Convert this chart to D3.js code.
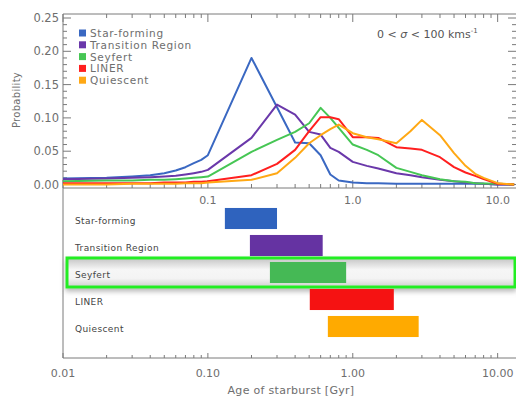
<!DOCTYPE html>
<html>
<head>
<meta charset="utf-8">
<script src="https://cdn.jsdelivr.net/npm/d3@7"></script>
<style>
body { margin: 0; background: #fff; }
svg text { font-family: "DejaVu Sans", sans-serif; }
</style>
</head>
<body>
<div id="chart"></div>
<script>
var width = 516,
	height = 397;

// age grid of the probability curves [Gyr]
var ages = [0.01, 0.02, 0.03, 0.04, 0.05, 0.06, 0.07, 0.08, 0.09, 0.1,
	0.2, 0.3, 0.4, 0.5, 0.6, 0.7, 0.8, 1.0, 1.25, 1.5,
	2.0, 2.5, 3.0, 4.0, 5.0, 6.0, 7.0, 8.0, 10.0, 13.0];

var starForming = [0.009, 0.010, 0.012, 0.014, 0.017, 0.021, 0.026, 0.032, 0.037, 0.044,
	0.190, 0.116, 0.063, 0.062, 0.044, 0.015, 0.006, 0.003, 0.002, 0.002,
	0.001, 0.001, 0.001, 0.001, 0.001, 0.001, 0.001, 0.001, 0.000, 0.000];
var transition = [0.008, 0.009, 0.010, 0.011, 0.012, 0.013, 0.015, 0.017, 0.019, 0.022,
	0.070, 0.120, 0.105, 0.079, 0.075, 0.055, 0.049, 0.034, 0.028, 0.024,
	0.017, 0.014, 0.011, 0.007, 0.005, 0.003, 0.002, 0.001, 0.000, 0.000];
var seyfert = [0.005, 0.006, 0.006, 0.007, 0.007, 0.008, 0.009, 0.010, 0.011, 0.012,
	0.049, 0.067, 0.079, 0.092, 0.115, 0.100, 0.085, 0.060, 0.052, 0.044,
	0.025, 0.019, 0.014, 0.008, 0.005, 0.004, 0.002, 0.0015, 0.001, 0.000];
var liner = [0.002, 0.002, 0.002, 0.002, 0.003, 0.003, 0.003, 0.004, 0.004, 0.005,
	0.014, 0.031, 0.052, 0.080, 0.101, 0.101, 0.098, 0.071, 0.071, 0.070,
	0.056, 0.054, 0.052, 0.041, 0.026, 0.018, 0.013, 0.008, 0.001, 0.000];
var quiescent = [0.000, 0.000, 0.001, 0.001, 0.001, 0.001, 0.002, 0.002, 0.002, 0.003,
	0.007, 0.017, 0.040, 0.062, 0.074, 0.083, 0.090, 0.077, 0.071, 0.068,
	0.062, 0.080, 0.097, 0.074, 0.047, 0.028, 0.016, 0.010, 0.002, 0.000];

var classes = ['Star-forming', 'Transition Region', 'Seyfert', 'LINER', 'Quiescent'];
var colors = ['#3a68c2', '#6a38aa', '#46c654', '#ff1f1f', '#ffa814'];
var barColors = ['#2f63be', '#6533a2', '#45b955', '#f51212', '#ffaa00'];

// age ranges [Gyr] for the bars
var rangeLow = [0.131, 0.195, 0.268, 0.505, 0.673];
var rangeHigh = [0.30, 0.62, 0.90, 1.92, 2.85];

var yTicks = [0.00, 0.05, 0.10, 0.15, 0.20, 0.25];
var topLabels = [0.1, 1.0, 10.0];
var bottomLabels = [0.01, 0.1, 1.0, 10.0];

var series = [starForming, transition, seyfert, liner, quiescent];

var svg = d3.select('#chart').append('svg')
	.attr('width', width)
	.attr('height', height);

var left = 63, right = 517,
	topY = 14, midY = 188, botY = 358;

var x = d3.scaleLog()
	.domain([0.01, 13.6])
	.range([left, right]);

var y = d3.scaleLinear()
	.domain([0, 0.25])
	.range([184.5, 18]);

var yBand = d3.scaleBand()
	.domain(classes)
	.range([205, 340])
	.paddingInner(0.22)
	.paddingOuter(0.11);

var axisColor = '#7a7a7a',
	textColor = '#6e6e6e';

// minor log ticks
var logTicks = [];
[0.01, 0.1, 1, 10].forEach(function(d) {
	for (var k = 1; k < 10; k++) {
		var v = d * k;
		if (v <= x.domain()[1]) logTicks.push({v: v, major: k === 1});
	}
});

var defs = svg.append('defs');
defs.append('clipPath').attr('id', 'clip')
	.append('rect')
	.attr('x', left).attr('y', topY)
	.attr('width', right - left).attr('height', midY - topY);

var grad = defs.append('linearGradient')
	.attr('id', 'boxfill')
	.attr('x1', 0).attr('y1', 0).attr('x2', 0).attr('y2', 1);
grad.append('stop').attr('offset', '0%').attr('stop-color', '#c4c4c4');
grad.append('stop').attr('offset', '40%').attr('stop-color', '#f6f6f6');
grad.append('stop').attr('offset', '70%').attr('stop-color', '#f4f4f4');
grad.append('stop').attr('offset', '100%').attr('stop-color', '#cfcfcf');

var shadow = defs.append('filter').attr('id', 'shadow')
	.attr('x', '-5%').attr('y', '-40%').attr('width', '110%').attr('height', '200%');
shadow.append('feDropShadow')
	.attr('dx', 0).attr('dy', 3)
	.attr('stdDeviation', 2.5)
	.attr('flood-color', '#888')
	.attr('flood-opacity', 0.6);

/* top panel */

var topPanel = svg.append('g').classed('top', true);

// frame
topPanel.append('line')
	.attr('x1', left).attr('x2', right)
	.attr('y1', topY).attr('y2', topY)
	.style('stroke', axisColor);
topPanel.append('line')
	.attr('x1', left).attr('x2', right)
	.attr('y1', midY).attr('y2', midY)
	.style('stroke', axisColor);
topPanel.append('line')
	.attr('x1', left).attr('x2', left)
	.attr('y1', topY).attr('y2', botY)
	.style('stroke', axisColor);

// x ticks, bottom (up) and top (down)
topPanel.selectAll('line.xtick')
	.data(logTicks)
	.enter()
	.append('line')
	.classed('xtick', true)
	.attr('x1', d => x(d.v)).attr('x2', d => x(d.v))
	.attr('y1', midY).attr('y2', d => midY - (d.major ? 8 : 4))
	.style('stroke', axisColor);
topPanel.selectAll('line.xtick2')
	.data(logTicks)
	.enter()
	.append('line')
	.classed('xtick2', true)
	.attr('x1', d => x(d.v)).attr('x2', d => x(d.v))
	.attr('y1', topY).attr('y2', d => topY + (d.major ? 8 : 4))
	.style('stroke', axisColor);

topPanel.selectAll('text.xlab')
	.data(topLabels)
	.enter()
	.append('text')
	.classed('xlab', true)
	.attr('x', d => x(d))
	.attr('y', 204)
	.attr('text-anchor', 'middle')
	.style('font-size', '11px')
	.style('fill', textColor)
	.text(d => d.toFixed(1));

// y ticks, left and right
var yMinor = d3.range(0, 0.2501, 0.01);
topPanel.selectAll('line.ytick')
	.data(yMinor)
	.enter()
	.append('line')
	.classed('ytick', true)
	.attr('x1', left).attr('x2', (d, i) => left + (i % 5 === 0 ? 8 : 4))
	.attr('y1', d => y(d)).attr('y2', d => y(d))
	.style('stroke', axisColor);
topPanel.selectAll('line.ytick2')
	.data(yMinor)
	.enter()
	.append('line')
	.classed('ytick2', true)
	.attr('x1', right - 1).attr('x2', (d, i) => right - 1 - (i % 5 === 0 ? 8 : 4))
	.attr('y1', d => y(d)).attr('y2', d => y(d))
	.style('stroke', axisColor);

topPanel.selectAll('text.ylab')
	.data(yTicks)
	.enter()
	.append('text')
	.classed('ylab', true)
	.attr('x', left - 4)
	.attr('y', d => y(d) + 4)
	.attr('text-anchor', 'end')
	.style('font-size', '11.5px')
	.style('fill', textColor)
	.text(d => d.toFixed(2));

topPanel.append('text')
	.attr('transform', 'translate(20,100) rotate(-90)')
	.attr('text-anchor', 'middle')
	.style('font-size', '10px')
	.style('letter-spacing', '0.3px')
	.style('fill', textColor)
	.text('Probability');

// curves
var line = d3.line()
	.x((d, i) => x(ages[i]))
	.y(d => y(d));

topPanel.append('g')
	.attr('clip-path', 'url(#clip)')
	.selectAll('path.curve')
	.data(series)
	.enter()
	.append('path')
	.classed('curve', true)
	.attr('d', line)
	.style('fill', 'none')
	.style('stroke', (d, i) => colors[i])
	.style('stroke-width', 2)
	.style('stroke-linejoin', 'round');

// legend
var legend = topPanel.selectAll('g.legend')
	.data(classes)
	.enter()
	.append('g')
	.classed('legend', true)
	.attr('transform', (d, i) => 'translate(79,' + (33 + i * 11.8) + ')');
legend.append('rect')
	.attr('x', 0).attr('y', -3.5)
	.attr('width', 7).attr('height', 7)
	.style('fill', (d, i) => colors[i]);
legend.append('text')
	.attr('x', 11)
	.attr('y', 4)
	.style('font-size', '10.5px')
	.style('letter-spacing', '0.7px')
	.style('fill', textColor)
	.text(d => d);

var note = topPanel.append('text')
	.attr('x', 377)
	.attr('y', 38)
	.style('font-size', '11px')
	.style('fill', '#555')
	.attr('xml:space', 'preserve')
	.text('0 < ');
note.append('tspan').style('font-style', 'italic').text('σ');
note.append('tspan').text(' < 100 kms');
note.append('tspan').attr('dy', -5).style('font-size', '7px').text('-1');

/* bottom panel */

var bottom = svg.append('g').classed('bottom', true);

bottom.append('line')
	.attr('x1', left).attr('x2', right)
	.attr('y1', botY).attr('y2', botY)
	.style('stroke', axisColor);

bottom.selectAll('line.btick')
	.data(logTicks)
	.enter()
	.append('line')
	.classed('btick', true)
	.attr('x1', d => x(d.v)).attr('x2', d => x(d.v))
	.attr('y1', botY).attr('y2', d => botY - (d.major ? 5 : 3))
	.style('stroke', axisColor);

bottom.selectAll('text.blab')
	.data(bottomLabels)
	.enter()
	.append('text')
	.classed('blab', true)
	.attr('x', d => x(d))
	.attr('y', 377)
	.attr('text-anchor', 'middle')
	.style('font-size', '11px')
	.style('fill', textColor)
	.text(d => d.toFixed(2));

bottom.append('text')
	.attr('x', 291)
	.attr('y', 394)
	.attr('text-anchor', 'middle')
	.style('font-size', '11px')
	.style('letter-spacing', '0.3px')
	.style('fill', textColor)
	.text('Age of starburst [Gyr]');

// highlight for Seyfert
bottom.append('rect')
	.attr('x', 67)
	.attr('y', yBand('Seyfert') - 4)
	.attr('width', 448)
	.attr('height', yBand.bandwidth() + 8)
	.style('fill', 'url(#boxfill)')
	.style('stroke', '#22ee22')
	.style('stroke-width', 3)
	.attr('filter', 'url(#shadow)');

bottom.selectAll('rect.bar')
	.data(classes)
	.enter()
	.append('rect')
	.classed('bar', true)
	.attr('x', (d, i) => x(rangeLow[i]))
	.attr('y', d => yBand(d))
	.attr('width', (d, i) => x(rangeHigh[i]) - x(rangeLow[i]))
	.attr('height', yBand.bandwidth())
	.style('fill', (d, i) => barColors[i]);

bottom.selectAll('text.cls')
	.data(classes)
	.enter()
	.append('text')
	.classed('cls', true)
	.attr('x', 75)
	.attr('y', d => yBand(d) + yBand.bandwidth() / 2 + 5)
	.style('font-size', '9px')
	.style('letter-spacing', '0.4px')
	.style('fill', '#444')
	.text(d => d);
</script>
</body>
</html>
